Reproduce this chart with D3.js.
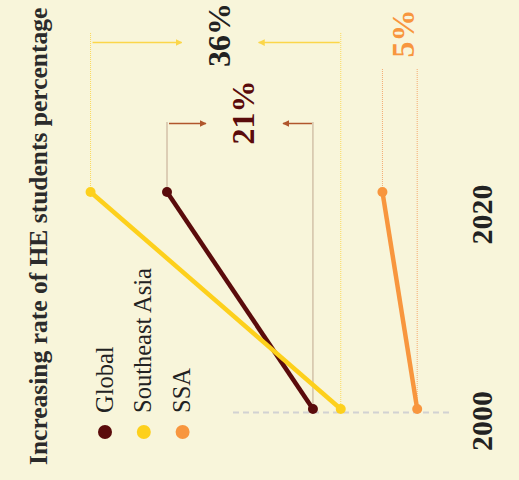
<!DOCTYPE html>
<html>
<head>
<meta charset="utf-8">
<script src="https://cdn.jsdelivr.net/npm/d3@7/dist/d3.min.js"></script>
<style>
  html, body { margin: 0; padding: 0; background: #f8f5da; }
  svg { display: block; }
  text { font-family: "Liberation Serif", "Times New Roman", serif; }
</style>
</head>
<body>
<script>
// Tertiary enrolment (%) by region, 2000 vs 2020
const years = [2000, 2020];
const seriesNames = ["Global", "Southeast Asia", "SSA"];
const globalValues = [19, 40];
const seAsiaValues = [15, 51];
const ssaValues = [4, 9];
const yearLabels = ["2000", "2020"];
const titleText = "Increasing rate of HE students percentage";

const colors = {
  "Global": "#5a0b0b",
  "Southeast Asia": "#fdd01c",
  "SSA": "#f8963e"
};
const labelColors = {
  "Global": "#5a0b0b",
  "Southeast Asia": "#222222",
  "SSA": "#f8963e"
};
const arrowColors = {
  "Global": "#b0562c",
  "Southeast Asia": "#fbd64a"
};
const dropColors = {
  "Global": "#8a5a44",
  "Southeast Asia": "#fbd95a",
  "SSA": "#f4aa72"
};
// vertical placement of each change annotation
const annotLayout = {
  "Global": { labelY: 112.5, arrowY: 123.5, lineTop: 122.5, arrows: true },
  "Southeast Asia": { labelY: 35, arrowY: 42.5, lineTop: 33, arrows: true },
  "SSA": { labelY: 33.5, arrowY: null, lineTop: 69, arrows: false }
};

const series = [
  { name: "Global", values: globalValues },
  { name: "Southeast Asia", values: seAsiaValues },
  { name: "SSA", values: ssaValues }
];

const W = 519, H = 480;
const svg = d3.select("body").append("svg").attr("width", W).attr("height", H);
svg.append("rect").attr("width", W).attr("height", H).attr("fill", "#f8f5da");

// chart is drawn turned a quarter: values grow leftwards, years grow upwards
const x = d3.scaleLinear().domain([0, 50]).range([445, 97.5]);
const y = d3.scaleLinear().domain([2000, 2020]).range([409, 192]);
const yLabel = d3.scaleLinear().domain([2000, 2020]).range([421, 214.5]);

const defs = svg.append("defs");
Object.entries(arrowColors).forEach(([k, c]) => {
  defs.append("marker")
    .attr("id", "arrow-" + k.replace(/\s/g, ""))
    .attr("viewBox", "0 0 10 10")
    .attr("refX", 9).attr("refY", 5)
    .attr("markerWidth", 4.5).attr("markerHeight", 4.5)
    .attr("orient", "auto-start-reverse")
    .append("path").attr("d", "M0,0 L10,5 L0,10 z").attr("fill", c);
});

// title
svg.append("text")
  .attr("transform", `translate(47,465) rotate(-90)`)
  .attr("font-size", 25.5).attr("font-weight", "bold").attr("fill", "#2b2b2b")
  .text(titleText);

// baseline for the first year
svg.append("line")
  .attr("x1", 233).attr("x2", 450)
  .attr("y1", y(2000) + 3.5).attr("y2", y(2000) + 3.5)
  .attr("stroke", "#d2d2d2").attr("stroke-width", 2).attr("stroke-dasharray", "6,4");

// year labels
svg.selectAll("text.year").data(years).join("text")
  .attr("class", "year")
  .attr("transform", (d) => `translate(492,${yLabel(d)}) rotate(-90)`)
  .attr("text-anchor", "middle")
  .attr("font-size", 30).attr("font-weight", "bold").attr("fill", "#222")
  .text((d, i) => yearLabels[i]);

// annotations: dotted drop lines, arrows and change labels
const annot = svg.append("g");
series.forEach((s) => {
  const L = annotLayout[s.name];
  const x0 = x(s.values[0]), x1 = x(s.values[1]);
  const mid = (x0 + x1) / 2;
  // drop lines
  [[x1, y(years[1])], [x0, y(years[0])]].forEach(([xx, yy]) => {
    annot.append("line")
      .attr("x1", xx).attr("x2", xx).attr("y1", L.lineTop).attr("y2", yy)
      .attr("stroke", dropColors[s.name]).attr("stroke-width", 1)
      .attr("stroke-dasharray", "1,1");
  });
  if (L.arrows) {
    const id = "url(#arrow-" + s.name.replace(/\s/g, "") + ")";
    annot.append("line")
      .attr("x1", x1 + 2).attr("x2", mid - 34)
      .attr("y1", L.arrowY).attr("y2", L.arrowY)
      .attr("stroke", arrowColors[s.name]).attr("stroke-width", 1.5)
      .attr("marker-end", id);
    annot.append("line")
      .attr("x1", x0 - 1).attr("x2", mid + 43)
      .attr("y1", L.arrowY).attr("y2", L.arrowY)
      .attr("stroke", arrowColors[s.name]).attr("stroke-width", 1.5)
      .attr("marker-end", id);
  }
  const change = s.values[1] - s.values[0];
  annot.append("text")
    .attr("transform", `translate(${mid + 14},${L.labelY}) rotate(-90)`)
    .attr("text-anchor", "middle")
    .attr("font-size", 32).attr("font-weight", "bold")
    .attr("fill", labelColors[s.name])
    .text(change + "%");
});

// series lines and points
const line = d3.line().x((d) => x(d.v)).y((d) => y(d.year));
const marks = svg.append("g");
series.forEach((s) => {
  const pts = years.map((yr, i) => ({ year: yr, v: s.values[i] }));
  marks.append("path")
    .datum(pts)
    .attr("d", line)
    .attr("fill", "none")
    .attr("stroke", colors[s.name])
    .attr("stroke-width", 4.5);
  marks.selectAll(null).data(pts).join("circle")
    .attr("cx", (d) => x(d.v)).attr("cy", (d) => y(d.year))
    .attr("r", 5)
    .attr("fill", colors[s.name]);
});

// legend
const legend = svg.append("g");
seriesNames.forEach((name, i) => {
  const lx = 105 + i * 38.8;
  legend.append("circle").attr("cx", lx).attr("cy", 432).attr("r", 7).attr("fill", colors[name]);
  legend.append("text")
    .attr("transform", `translate(${lx + 7.5},413) rotate(-90)`)
    .attr("font-size", 24.5).attr("fill", "#222")
    .text(name);
});
</script>
</body>
</html>
